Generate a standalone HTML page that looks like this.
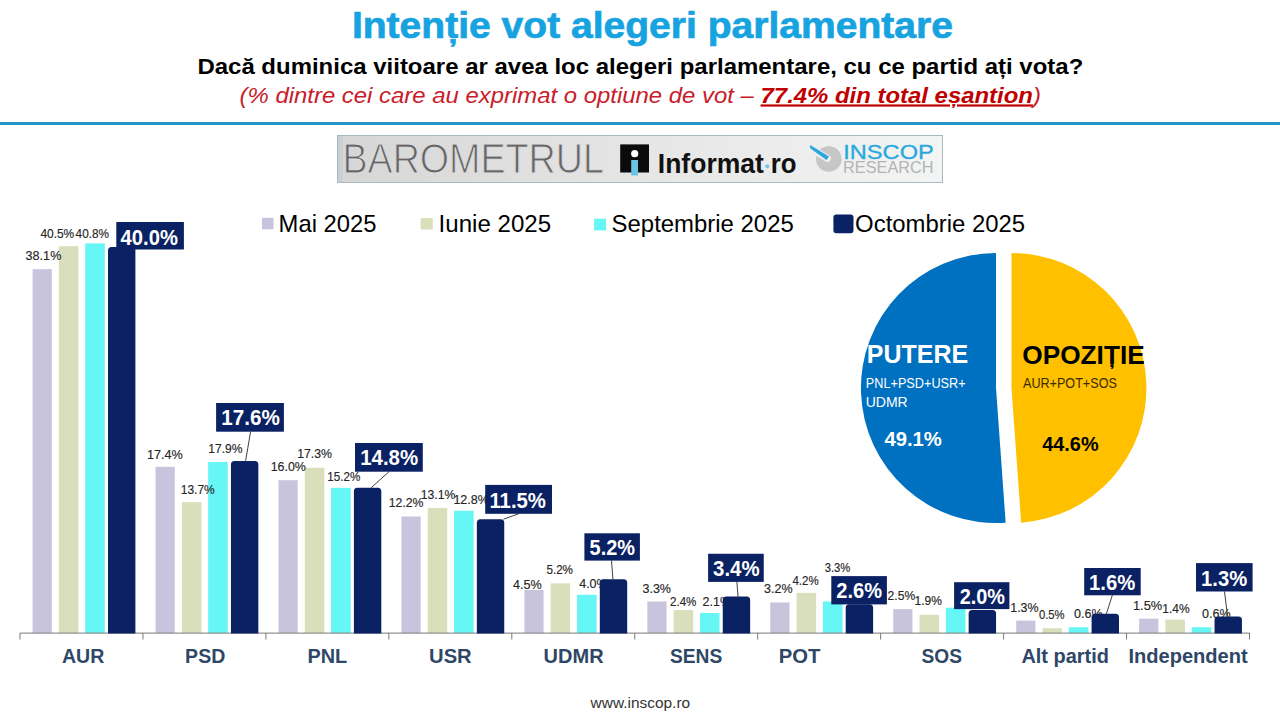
<!DOCTYPE html><html><head><meta charset="utf-8"><style>html,body{margin:0;padding:0;background:#fff;overflow:hidden}svg{display:block}</style></head><body>
<svg width="1280" height="720" viewBox="0 0 1280 720">
<defs><linearGradient id="bg" x1="0" y1="0" x2="1" y2="0"><stop offset="0" stop-color="#d6d6d6"/><stop offset="0.45" stop-color="#e4e4e4"/><stop offset="1" stop-color="#f3f4f4"/></linearGradient></defs>
<rect width="1280" height="720" fill="#fff"/>
<text transform="translate(351.89 38) scale(1.0556 1)" font-family="'Liberation Sans', sans-serif" font-size="37" font-weight="bold" fill="#17a3e0" stroke="#17a3e0" stroke-width="0.7">Intenție vot alegeri parlamentare</text>
<text transform="translate(197.41 73.8) scale(1.0900 1)" font-family="'Liberation Sans', sans-serif" font-size="22" font-weight="bold" fill="#000" >Dacă duminica viitoare ar avea loc alegeri parlamentare, cu ce partid ați vota?</text>
<text transform="translate(239.51 102.5) scale(1.0876 1)" font-family="'Liberation Sans', sans-serif" font-size="22" font-style="italic" fill="#c8202a" >(% dintre cei care au exprimat o optiune de vot – <tspan font-weight="bold" text-decoration="underline" fill="#c00000">77.4% din total eșantion</tspan>)</text>
<rect x="0" y="122" width="1280" height="3" fill="#2398c8"/>
<rect x="337.5" y="135.5" width="605" height="47" fill="url(#bg)" stroke="#a9b9bf" stroke-width="1"/>
<rect x="338" y="136" width="5" height="46" fill="#c9d0d3"/>
<text transform="translate(342.41 173) scale(0.8969 1)" font-family="'Liberation Sans', sans-serif" font-size="42" fill="#666" stroke="#dddddd" stroke-width="1.1">BAROMETRUL</text>
<rect x="620.2" y="144.4" width="28.8" height="28.1" fill="#0b0b0b"/>
<circle cx="634.7" cy="153.7" r="3.6" fill="#fff"/>
<rect x="631.2" y="160" width="6.8" height="15.5" fill="#6cc4e4"/>
<text transform="translate(657.77 172.5) scale(0.9648 1)" font-family="'Liberation Sans', sans-serif" font-size="27.5" font-weight="bold" fill="#111" >Informat</text>
<circle cx="767.2" cy="166.3" r="2.1" fill="#7cc6df"/>
<text transform="translate(770.63 172.5) scale(0.9360 1)" font-family="'Liberation Sans', sans-serif" font-size="27.5" font-weight="bold" fill="#111" >ro</text>
<circle cx="828.8" cy="159" r="12.8" fill="#c6c6c6"/>
<path d="M809 147 L827.5 158.5" stroke="#eeeeee" stroke-width="7" stroke-linecap="round"/>
<path d="M810.2 145 Q809 147.5 811 149 L826.5 160 L829 156.5 Z" fill="#2aa8de"/>
<text transform="translate(843.22 158.75) scale(1.1813 1)" font-family="'Liberation Sans', sans-serif" font-size="20" fill="#2aa8de" stroke="#2aa8de" stroke-width="0.3">INSCOP</text>
<text transform="translate(843.01 173) scale(0.9889 1)" font-family="'Liberation Sans', sans-serif" font-size="16.5" fill="#b4b4b4" >RESEARCH</text>
<rect x="262" y="217.8" width="11.5" height="11.5" fill="#c9c4de"/>
<rect x="420.6" y="218" width="12.2" height="11.5" fill="#d9dfbb"/>
<rect x="594.1" y="218.7" width="12" height="11.7" fill="#66f6f6"/>
<rect x="833.4" y="214.5" width="20.1" height="18.8" rx="3" fill="#0a2263"/>
<text transform="translate(278.62 231.8) scale(0.9917 1)" font-family="'Liberation Sans', sans-serif" font-size="24" fill="#000" >Mai 2025</text>
<text transform="translate(438.59 231.9) scale(1.0037 1)" font-family="'Liberation Sans', sans-serif" font-size="24" fill="#000" >Iunie 2025</text>
<text transform="translate(611.6 231.6) scale(0.9972 1)" font-family="'Liberation Sans', sans-serif" font-size="24" fill="#000" >Septembrie 2025</text>
<text transform="translate(855.1 231.6) scale(0.9964 1)" font-family="'Liberation Sans', sans-serif" font-size="24" fill="#000" >Octombrie 2025</text>
<rect x="32.6" y="269.14" width="19.2" height="363.86" fill="#c9c4de"/>
<rect x="58.9" y="246.22" width="19.5" height="386.78" fill="#d9dfbb"/>
<rect x="85.2" y="243.36" width="19.6" height="389.64" fill="#66f6f6"/>
<rect x="155.55" y="466.83" width="19.2" height="166.17" fill="#c9c4de"/>
<rect x="181.85" y="502.16" width="19.5" height="130.84" fill="#d9dfbb"/>
<rect x="208.15" y="462.06" width="19.6" height="170.94" fill="#66f6f6"/>
<rect x="278.5" y="480.2" width="19.2" height="152.8" fill="#c9c4de"/>
<rect x="304.8" y="467.78" width="19.5" height="165.22" fill="#d9dfbb"/>
<rect x="331.1" y="487.84" width="19.6" height="145.16" fill="#66f6f6"/>
<rect x="401.45" y="516.49" width="19.2" height="116.51" fill="#c9c4de"/>
<rect x="427.75" y="507.89" width="19.5" height="125.11" fill="#d9dfbb"/>
<rect x="454.05" y="510.76" width="19.6" height="122.24" fill="#66f6f6"/>
<rect x="524.4" y="590.02" width="19.2" height="42.98" fill="#c9c4de"/>
<rect x="550.7" y="583.34" width="19.5" height="49.66" fill="#d9dfbb"/>
<rect x="577" y="594.8" width="19.6" height="38.2" fill="#66f6f6"/>
<rect x="647.35" y="601.49" width="19.2" height="31.51" fill="#c9c4de"/>
<rect x="673.65" y="610.08" width="19.5" height="22.92" fill="#d9dfbb"/>
<rect x="699.95" y="612.95" width="19.6" height="20.05" fill="#66f6f6"/>
<rect x="770.3" y="602.44" width="19.2" height="30.56" fill="#c9c4de"/>
<rect x="796.6" y="592.89" width="19.5" height="40.11" fill="#d9dfbb"/>
<rect x="822.9" y="601.49" width="19.6" height="31.51" fill="#66f6f6"/>
<rect x="893.25" y="609.12" width="19.2" height="23.88" fill="#c9c4de"/>
<rect x="919.55" y="614.86" width="19.5" height="18.14" fill="#d9dfbb"/>
<rect x="945.85" y="607.69" width="19.6" height="25.31" fill="#66f6f6"/>
<rect x="1016.2" y="620.59" width="19.2" height="12.41" fill="#c9c4de"/>
<rect x="1042.5" y="628.23" width="19.5" height="4.77" fill="#d9dfbb"/>
<rect x="1068.8" y="627.27" width="19.6" height="5.73" fill="#66f6f6"/>
<rect x="1139.15" y="618.67" width="19.2" height="14.33" fill="#c9c4de"/>
<rect x="1165.45" y="619.63" width="19.5" height="13.37" fill="#d9dfbb"/>
<rect x="1191.75" y="627.27" width="19.6" height="5.73" fill="#66f6f6"/>
<rect x="20" y="632.6" width="1230" height="1" fill="#7a7a7a"/>
<rect x="19.5" y="633" width="1" height="6.5" fill="#7a7a7a"/>
<rect x="142.45" y="633" width="1" height="6.5" fill="#7a7a7a"/>
<rect x="265.4" y="633" width="1" height="6.5" fill="#7a7a7a"/>
<rect x="388.35" y="633" width="1" height="6.5" fill="#7a7a7a"/>
<rect x="511.3" y="633" width="1" height="6.5" fill="#7a7a7a"/>
<rect x="634.25" y="633" width="1" height="6.5" fill="#7a7a7a"/>
<rect x="757.2" y="633" width="1" height="6.5" fill="#7a7a7a"/>
<rect x="880.15" y="633" width="1" height="6.5" fill="#7a7a7a"/>
<rect x="1003.1" y="633" width="1" height="6.5" fill="#7a7a7a"/>
<rect x="1126.05" y="633" width="1" height="6.5" fill="#7a7a7a"/>
<rect x="1249" y="633" width="1" height="6.5" fill="#7a7a7a"/>
<text transform="translate(25.6 260.3) scale(0.9703 1)" font-family="'Liberation Sans', sans-serif" font-size="13" fill="#262626" stroke="#262626" stroke-width="0.15">38.1%</text>
<text transform="translate(40.4 237.5) scale(0.9941 1)" font-family="'Liberation Sans', sans-serif" font-size="12" fill="#262626" stroke="#262626" stroke-width="0.15">40.5%</text>
<text transform="translate(75.6 238.2) scale(0.9824 1)" font-family="'Liberation Sans', sans-serif" font-size="12" fill="#262626" stroke="#262626" stroke-width="0.15">40.8%</text>
<text transform="translate(147.03 458.7) scale(0.9722 1)" font-family="'Liberation Sans', sans-serif" font-size="13" fill="#262626" stroke="#262626" stroke-width="0.15">17.4%</text>
<text transform="translate(180.74 494) scale(0.9588 1)" font-family="'Liberation Sans', sans-serif" font-size="12.5" fill="#262626" stroke="#262626" stroke-width="0.15">13.7%</text>
<text transform="translate(208.33 452.8) scale(0.9676 1)" font-family="'Liberation Sans', sans-serif" font-size="12.5" fill="#262626" stroke="#262626" stroke-width="0.15">17.9%</text>
<text transform="translate(270.64 471.2) scale(0.9556 1)" font-family="'Liberation Sans', sans-serif" font-size="13" fill="#262626" stroke="#262626" stroke-width="0.15">16.0%</text>
<text transform="translate(297.22 458.4) scale(0.9824 1)" font-family="'Liberation Sans', sans-serif" font-size="12.5" fill="#262626" stroke="#262626" stroke-width="0.15">17.3%</text>
<text transform="translate(327.27 481.2) scale(0.9324 1)" font-family="'Liberation Sans', sans-serif" font-size="12.5" fill="#262626" stroke="#262626" stroke-width="0.15">15.2%</text>
<text transform="translate(388.76 507.3) scale(0.9444 1)" font-family="'Liberation Sans', sans-serif" font-size="13" fill="#262626" stroke="#262626" stroke-width="0.15">12.2%</text>
<text transform="translate(420.72 498.5) scale(0.9765 1)" font-family="'Liberation Sans', sans-serif" font-size="12.5" fill="#262626" stroke="#262626" stroke-width="0.15">13.1%</text>
<text transform="translate(453.4 504.3) scale(1.0000 1)" font-family="'Liberation Sans', sans-serif" font-size="12.5" fill="#262626" stroke="#262626" stroke-width="0.15">12.8%</text>
<text transform="translate(513 589.1) scale(0.9733 1)" font-family="'Liberation Sans', sans-serif" font-size="13" fill="#262626" stroke="#262626" stroke-width="0.15">4.5%</text>
<text transform="translate(546.4 574) scale(0.9345 1)" font-family="'Liberation Sans', sans-serif" font-size="12.5" fill="#262626" stroke="#262626" stroke-width="0.15">5.2%</text>
<text transform="translate(579.2 587.5) scale(1.0000 1)" font-family="'Liberation Sans', sans-serif" font-size="12.5" fill="#262626" stroke="#262626" stroke-width="0.15">4.0%</text>
<text transform="translate(642.5 592.6) scale(0.9600 1)" font-family="'Liberation Sans', sans-serif" font-size="13" fill="#262626" stroke="#262626" stroke-width="0.15">3.3%</text>
<text transform="translate(670 606.4) scale(0.9276 1)" font-family="'Liberation Sans', sans-serif" font-size="12.5" fill="#262626" stroke="#262626" stroke-width="0.15">2.4%</text>
<text transform="translate(702.5 606.4) scale(1.0000 1)" font-family="'Liberation Sans', sans-serif" font-size="12.5" fill="#262626" stroke="#262626" stroke-width="0.15">2.1%</text>
<text transform="translate(764.1 593.4) scale(0.9633 1)" font-family="'Liberation Sans', sans-serif" font-size="13" fill="#262626" stroke="#262626" stroke-width="0.15">3.2%</text>
<text transform="translate(792.4 584.5) scale(0.9207 1)" font-family="'Liberation Sans', sans-serif" font-size="12.5" fill="#262626" stroke="#262626" stroke-width="0.15">4.2%</text>
<text transform="translate(824.7 572.3) scale(0.9000 1)" font-family="'Liberation Sans', sans-serif" font-size="12.5" fill="#262626" stroke="#262626" stroke-width="0.15">3.3%</text>
<text transform="translate(887.6 600) scale(0.9300 1)" font-family="'Liberation Sans', sans-serif" font-size="13" fill="#262626" stroke="#262626" stroke-width="0.15">2.5%</text>
<text transform="translate(914.54 605) scale(0.9607 1)" font-family="'Liberation Sans', sans-serif" font-size="12.5" fill="#262626" stroke="#262626" stroke-width="0.15">1.9%</text>
<text transform="translate(957 600) scale(1.0000 1)" font-family="'Liberation Sans', sans-serif" font-size="12.5" fill="#262626" stroke="#262626" stroke-width="0.15">2.2%</text>
<text transform="translate(1010.24 612.3) scale(0.9586 1)" font-family="'Liberation Sans', sans-serif" font-size="13" fill="#262626" stroke="#262626" stroke-width="0.15">1.3%</text>
<text transform="translate(1039 618.9) scale(0.9000 1)" font-family="'Liberation Sans', sans-serif" font-size="12.5" fill="#262626" stroke="#262626" stroke-width="0.15">0.5%</text>
<text transform="translate(1074 618.4) scale(1.0000 1)" font-family="'Liberation Sans', sans-serif" font-size="12.5" fill="#262626" stroke="#262626" stroke-width="0.15">0.6%</text>
<text transform="translate(1132.91 610.1) scale(0.9897 1)" font-family="'Liberation Sans', sans-serif" font-size="13" fill="#262626" stroke="#262626" stroke-width="0.15">1.5%</text>
<text transform="translate(1162.29 613.25) scale(0.9589 1)" font-family="'Liberation Sans', sans-serif" font-size="12.5" fill="#262626" stroke="#262626" stroke-width="0.15">1.4%</text>
<text transform="translate(1202 618.25) scale(1.0000 1)" font-family="'Liberation Sans', sans-serif" font-size="12.5" fill="#262626" stroke="#262626" stroke-width="0.15">0.6%</text>
<path d="M108 633.5 V250.5 Q108 247 111.5 247 H131.9 Q135.4 247 135.4 250.5 V633.5 Z" fill="#0a2263"/>
<path d="M230.95 633.5 V464.42 Q230.95 460.92 234.45 460.92 H254.85 Q258.35 460.92 258.35 464.42 V633.5 Z" fill="#0a2263"/>
<path d="M353.9 633.5 V491.16 Q353.9 487.66 357.4 487.66 H377.8 Q381.3 487.66 381.3 491.16 V633.5 Z" fill="#0a2263"/>
<path d="M476.85 633.5 V522.67 Q476.85 519.17 480.35 519.17 H500.75 Q504.25 519.17 504.25 522.67 V633.5 Z" fill="#0a2263"/>
<path d="M599.8 633.5 V582.84 Q599.8 579.34 603.3 579.34 H623.7 Q627.2 579.34 627.2 582.84 V633.5 Z" fill="#0a2263"/>
<path d="M722.75 633.5 V600.03 Q722.75 596.53 726.25 596.53 H746.65 Q750.15 596.53 750.15 600.03 V633.5 Z" fill="#0a2263"/>
<path d="M845.7 633.5 V607.67 Q845.7 604.17 849.2 604.17 H869.6 Q873.1 604.17 873.1 607.67 V633.5 Z" fill="#0a2263"/>
<path d="M968.65 633.5 V613.4 Q968.65 609.9 972.15 609.9 H992.55 Q996.05 609.9 996.05 613.4 V633.5 Z" fill="#0a2263"/>
<path d="M1091.6 633.5 V617.22 Q1091.6 613.72 1095.1 613.72 H1115.5 Q1119 613.72 1119 617.22 V633.5 Z" fill="#0a2263"/>
<path d="M1214.55 633.5 V620.09 Q1214.55 616.59 1218.05 616.59 H1238.45 Q1241.95 616.59 1241.95 620.09 V633.5 Z" fill="#0a2263"/>
<rect x="116.3" y="222" width="67.6" height="27.5" fill="#0a2263"/>
<text transform="translate(120.6 244.5) scale(0.9177 1)" font-family="'Liberation Sans', sans-serif" font-size="22" font-weight="bold" fill="#fff" >40.0%</text>
<line x1="250.6" y1="431.7" x2="245.6" y2="460.8" stroke="#404040" stroke-width="1"/>
<rect x="216.1" y="403" width="67.8" height="28.7" fill="#0a2263"/>
<text transform="translate(221.26 425) scale(0.9377 1)" font-family="'Liberation Sans', sans-serif" font-size="22" font-weight="bold" fill="#fff" >17.6%</text>
<line x1="388.9" y1="471.7" x2="371.1" y2="487.8" stroke="#404040" stroke-width="1"/>
<rect x="355" y="443" width="67.8" height="28.7" fill="#0a2263"/>
<text transform="translate(360.17 465) scale(0.9295 1)" font-family="'Liberation Sans', sans-serif" font-size="22" font-weight="bold" fill="#fff" >14.8%</text>
<line x1="518.7" y1="513.8" x2="503.4" y2="519.2" stroke="#404040" stroke-width="1"/>
<rect x="485.2" y="484.9" width="66.8" height="28.9" fill="#0a2263"/>
<text transform="translate(489.38 507.5) scale(0.9250 1)" font-family="'Liberation Sans', sans-serif" font-size="22" font-weight="bold" fill="#fff" >11.5%</text>
<line x1="611.5" y1="560.6" x2="613" y2="580.2" stroke="#404040" stroke-width="1"/>
<rect x="584.4" y="533.3" width="55.5" height="27.3" fill="#0a2263"/>
<text transform="translate(589.6 555.2) scale(0.9060 1)" font-family="'Liberation Sans', sans-serif" font-size="22" font-weight="bold" fill="#fff" >5.2%</text>
<line x1="736.9" y1="581.9" x2="738.1" y2="597.5" stroke="#404040" stroke-width="1"/>
<rect x="708.1" y="553.75" width="55.65" height="28.15" fill="#0a2263"/>
<text transform="translate(713.1 576.25) scale(0.9260 1)" font-family="'Liberation Sans', sans-serif" font-size="22" font-weight="bold" fill="#fff" >3.4%</text>
<rect x="831.3" y="576.1" width="55.6" height="28.3" fill="#0a2263"/>
<text transform="translate(836.3 598.3) scale(0.9120 1)" font-family="'Liberation Sans', sans-serif" font-size="22" font-weight="bold" fill="#fff" >2.6%</text>
<rect x="954.1" y="582.2" width="55.3" height="26.9" fill="#0a2263"/>
<text transform="translate(959.7 604) scale(0.9040 1)" font-family="'Liberation Sans', sans-serif" font-size="22" font-weight="bold" fill="#fff" >2.0%</text>
<line x1="1112.3" y1="595.3" x2="1106.2" y2="614.4" stroke="#404040" stroke-width="1"/>
<rect x="1084.2" y="568" width="56.5" height="27.3" fill="#0a2263"/>
<text transform="translate(1089.08 590) scale(0.9224 1)" font-family="'Liberation Sans', sans-serif" font-size="22" font-weight="bold" fill="#fff" >1.6%</text>
<line x1="1224.5" y1="591.5" x2="1227.6" y2="616.9" stroke="#404040" stroke-width="1"/>
<rect x="1196" y="563.1" width="56.6" height="28.4" fill="#0a2263"/>
<text transform="translate(1201.08 585.6) scale(0.9184 1)" font-family="'Liberation Sans', sans-serif" font-size="22" font-weight="bold" fill="#fff" >1.3%</text>
<path d="M996 388 L996 253 A135 135 0 1 0 1005.65 522.65 Z" fill="#0070c0"/>
<path d="M1011.5 388 L1011.5 253 A135 135 0 0 1 1021.15 522.65 Z" fill="#ffc000"/>
<text transform="translate(866.84 363.3) scale(0.9615 1)" font-family="'Liberation Sans', sans-serif" font-size="26" font-weight="bold" fill="#fff" >PUTERE</text>
<text transform="translate(865.79 387.8) scale(0.9064 1)" font-family="'Liberation Sans', sans-serif" font-size="14" fill="#fff" >PNL+PSD+USR+</text>
<text transform="translate(865.7 406.7) scale(1.0024 1)" font-family="'Liberation Sans', sans-serif" font-size="14" fill="#fff" >UDMR</text>
<text transform="translate(884.4 446.2) scale(1.0140 1)" font-family="'Liberation Sans', sans-serif" font-size="20" font-weight="bold" fill="#fff" >49.1%</text>
<text transform="translate(1022.29 364.4) scale(1.0092 1)" font-family="'Liberation Sans', sans-serif" font-size="26" font-weight="bold" fill="#000" >OPOZIȚIE</text>
<text transform="translate(1023 388.4) scale(0.9010 1)" font-family="'Liberation Sans', sans-serif" font-size="14" fill="#3a2c00" >AUR+POT+SOS</text>
<text transform="translate(1042.2 450.7) scale(0.9947 1)" font-family="'Liberation Sans', sans-serif" font-size="20" font-weight="bold" fill="#000" >44.6%</text>
<text transform="translate(61.9 662.8) scale(0.9791 1)" font-family="'Liberation Sans', sans-serif" font-size="20" font-weight="bold" fill="#2e4766" >AUR</text>
<text transform="translate(185.12 662.8) scale(0.9775 1)" font-family="'Liberation Sans', sans-serif" font-size="20" font-weight="bold" fill="#2e4766" >PSD</text>
<text transform="translate(307.41 662.8) scale(0.9949 1)" font-family="'Liberation Sans', sans-serif" font-size="20" font-weight="bold" fill="#2e4766" >PNL</text>
<text transform="translate(429.09 662.8) scale(1.0098 1)" font-family="'Liberation Sans', sans-serif" font-size="20" font-weight="bold" fill="#2e4766" >USR</text>
<text transform="translate(543.6 662.8) scale(1.0000 1)" font-family="'Liberation Sans', sans-serif" font-size="20" font-weight="bold" fill="#2e4766" >UDMR</text>
<text transform="translate(670 662.8) scale(0.9593 1)" font-family="'Liberation Sans', sans-serif" font-size="20" font-weight="bold" fill="#2e4766" >SENS</text>
<text transform="translate(778.69 662.8) scale(1.0125 1)" font-family="'Liberation Sans', sans-serif" font-size="20" font-weight="bold" fill="#2e4766" >POT</text>
<text transform="translate(921.5 662.8) scale(0.9571 1)" font-family="'Liberation Sans', sans-serif" font-size="20" font-weight="bold" fill="#2e4766" >SOS</text>
<text transform="translate(1021.4 662.8) scale(0.9989 1)" font-family="'Liberation Sans', sans-serif" font-size="20" font-weight="bold" fill="#2e4766" >Alt partid</text>
<text transform="translate(1128.5 662.8) scale(1.0034 1)" font-family="'Liberation Sans', sans-serif" font-size="20" font-weight="bold" fill="#2e4766" >Independent</text>
<text transform="translate(590.6 707.5) scale(1.0292 1)" font-family="'Liberation Sans', sans-serif" font-size="15" fill="#333" >www.inscop.ro</text>
</svg></body></html>
